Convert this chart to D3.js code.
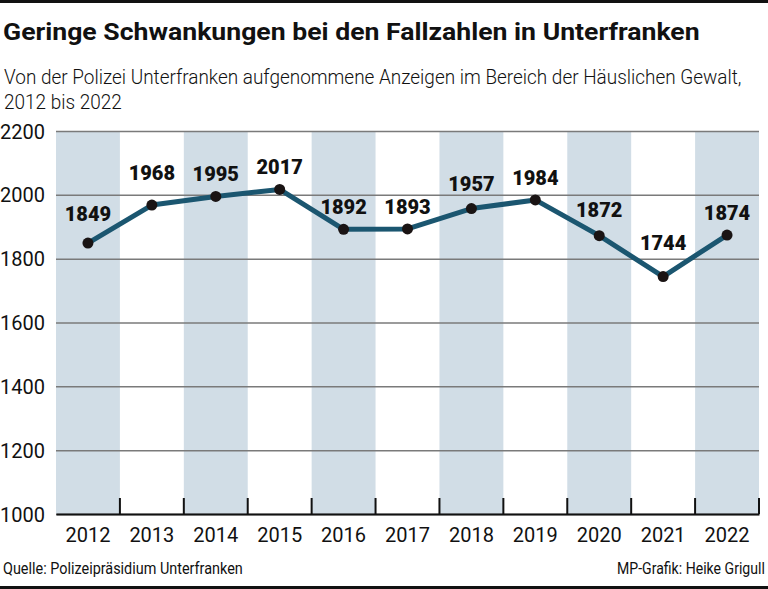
<!DOCTYPE html>
<html><head><meta charset="utf-8">
<script src="https://cdn.jsdelivr.net/npm/d3@7"></script>
<style>body{margin:0;background:#fff;}svg{display:block;}</style>
</head><body>
<svg id="c" width="768" height="589"></svg>
<script>
const years = ["2012","2013","2014","2015","2016","2017","2018","2019","2020","2021","2022"];
const values = [1849,1968,1995,2017,1892,1893,1957,1984,1872,1744,1874];
const yTicks = [1000,1200,1400,1600,1800,2000,2200];
const title = "Geringe Schwankungen bei den Fallzahlen in Unterfranken";
const subtitle = ["Von der Polizei Unterfranken aufgenommene Anzeigen im Bereich der Häuslichen Gewalt,", "2012 bis 2022"];
const source = "Quelle: Polizeipräsidium Unterfranken";
const credit = "MP-Grafik: Heike Grigull";

(function(){
const svg = d3.select("#c");
const F = "Roboto, 'Noto Sans', sans-serif";
const W = 768;
const pL = 56, pR = 759, pT = 131, pB = 514;

// text helper: scale horizontally to a target width (or a given scale)
function cText(str, x0, y0, size, weight, targetW, anchor, fixedScale){
  const t = svg.append("text").attr("font-family",F).attr("font-size",size)
    .attr("font-weight",weight).attr("fill","#111").text(str);
  const nat = t.node().getComputedTextLength();
  const s = fixedScale || targetW / nat;
  const w = nat * s;
  const ax = anchor==="end" ? x0 - w : x0;
  t.attr("transform",`translate(${ax},${y0}) scale(${s},1)`);
  return s;
}

svg.append("rect").attr("x",0).attr("y",0).attr("width",W).attr("height",3).attr("fill","#111");
svg.append("rect").attr("x",0).attr("y",586).attr("width",W).attr("height",3).attr("fill","#111");

cText(title, 3, 40, 24.5, 700, 697);
const sSub = cText(subtitle[0], 4, 84, 19.5, 300, 738);
cText(subtitle[1], 4, 109, 19.5, 300, 0, null, sSub);

const x = d3.scaleBand().domain(years).range([pL,pR]).padding(0);
const y = d3.scaleLinear().domain([1000,2200]).range([pB,pT]);

svg.append("g").selectAll("rect").data(years.filter((d,i)=>i%2===0)).join("rect")
  .attr("x",d=>x(d)).attr("y",pT).attr("width",x.bandwidth()).attr("height",pB-pT).attr("fill","#d1dde6");

const yAxis = d3.axisLeft(y).tickValues(yTicks).tickSize(-(pR-pL)).tickFormat(d=>d);
const gy = svg.append("g").attr("transform",`translate(${pL},0)`).call(yAxis);
gy.select(".domain").remove();
gy.selectAll(".tick line").attr("stroke","#7a7a7a").attr("stroke-width",1.5);
gy.selectAll(".tick text").attr("x",-11).attr("dy","0.35em").attr("font-family",F).attr("font-size",20).attr("fill","#111");

const xAxis = d3.axisBottom(x).tickSize(0).tickPadding(14);
const gx = svg.append("g").attr("transform",`translate(0,${pB})`).call(xAxis);
gx.select(".domain").attr("stroke","#111").attr("stroke-width",2);
gx.selectAll(".tick text").attr("font-family",F).attr("font-size",20).attr("fill","#111");
svg.append("g").selectAll("line").data(years).join("line")
  .attr("x1",d=>x(d)+x.bandwidth()).attr("x2",d=>x(d)+x.bandwidth())
  .attr("y1",pB-16).attr("y2",pB).attr("stroke","#111").attr("stroke-width",2);

const cx = d=>x(d)+x.bandwidth()/2;
const line = d3.line().x((d,i)=>cx(years[i])).y(d=>y(d));
svg.append("path").datum(values).attr("d",line).attr("fill","none").attr("stroke","#1b5670").attr("stroke-width",5).attr("stroke-linejoin","round");
svg.append("g").selectAll("circle").data(values).join("circle")
  .attr("cx",(d,i)=>cx(years[i])).attr("cy",d=>y(d)).attr("r",5.5).attr("fill","#1a1414");

const nudge = {"2012":7,"2013":10,"2018":3,"2020":4,"2021":12};
svg.append("g").selectAll("text").data(values).join("text")
  .attr("x",(d,i)=>cx(years[i])).attr("y",(d,i)=>y(d)-15-(nudge[years[i]]||0)).attr("text-anchor","middle")
  .attr("font-family",F).attr("font-weight",900).attr("font-size",20).attr("fill","#111").text(d=>d);

cText(source, 3, 574, 16, 400, 240);
cText(credit, 765, 574, 16, 400, 148, "end");
})();
</script>
</body></html>
